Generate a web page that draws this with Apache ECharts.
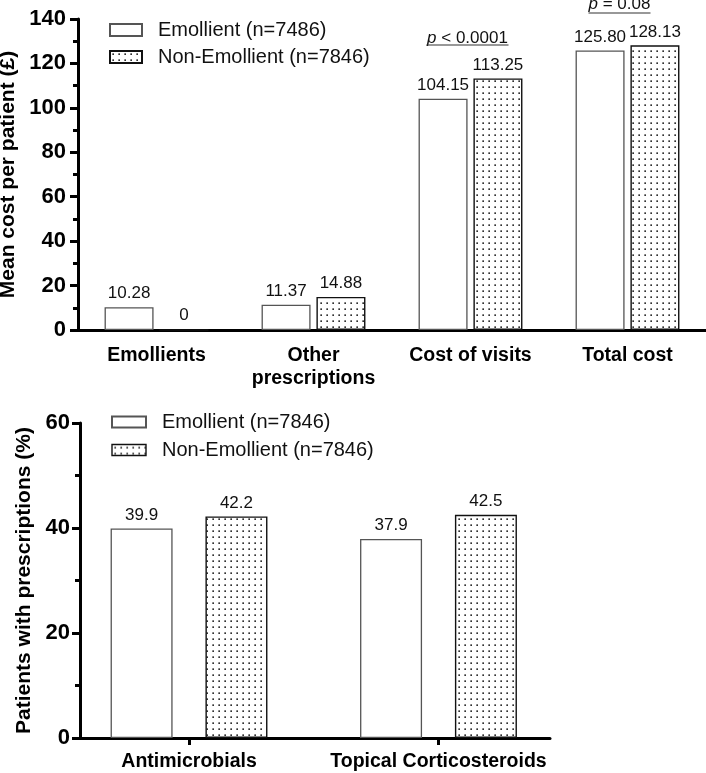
<!DOCTYPE html>
<html>
<head>
<meta charset="utf-8">
<script src="https://cdn.jsdelivr.net/npm/echarts@6/dist/echarts.min.js"></script>
<style>
html,body{margin:0;padding:0;background:#fff;}
#main{width:706px;height:773px;}
</style>
</head>
<body>
<div id="main"></div>
<script>
// ---- Data ----
const costCategories = ['Emollients', 'Other\nprescriptions', 'Cost of visits', 'Total cost'];
const costEmollient = [10.28, 11.37, 104.15, 125.80];
const costNonEmollient = [0, 14.88, 113.25, 128.13];
const costTicks = [0, 20, 40, 60, 80, 100, 120, 140];

const rxCategories = ['Antimicrobials', 'Topical Corticosteroids'];
const rxEmollient = [39.9, 37.9];
const rxNonEmollient = [42.2, 42.5];
const rxTicks = [0, 20, 40, 60];

const pValueCost = { category: 'Cost of visits', text: '< 0.0001' };
const pValueTotal = { category: 'Total cost', text: '= 0.08' };

const FONT = '"Liberation Sans", Arial, Helvetica, sans-serif';

function dotPattern() {
  const c = document.createElement('canvas');
  c.width = 6; c.height = 6;
  const ctx = c.getContext('2d');
  ctx.fillStyle = '#fff';
  ctx.fillRect(0, 0, 6, 6);
  ctx.fillStyle = '#000';
  ctx.fillRect(2.4, 2.4, 1.5, 1.5);
  return c;
}
const dots = { image: dotPattern(), repeat: 'repeat' };

const emolStyle = { color: '#fff', borderColor: '#555', borderWidth: 1.3 };
const nonStyle = { color: dots, borderColor: '#111', borderWidth: 1.4 };

const axisLineStyle = { show: true, lineStyle: { color: '#000', width: 3 } };
const tickStyle = { color: '#000', width: 3 };

const chart = echarts.init(document.getElementById('main'), null, { renderer: 'canvas' });

const labelCommon = { show: true, position: 'top', distance: 5, fontSize: 17, color: '#111', fontFamily: FONT };

const option = {
  animation: false,
  textStyle: { fontFamily: FONT },
  grid: [
    { left: 78, top: 19, width: 628, height: 311, containLabel: false, outerBoundsMode: 'none' },
    { left: 80, top: 423, width: 470, height: 315, containLabel: false, outerBoundsMode: 'none' }
  ],
  legend: [
    {
      orient: 'vertical', left: 104, top: 14, itemWidth: 32, itemHeight: 12, itemGap: 5,
      icon: 'rect', selectedMode: false,
      textStyle: { fontSize: 20, color: '#111', lineHeight: 22, padding: [0, 0, 0, 11] },
      data: ['Emollient (n=7486)', 'Non-Emollient (n=7846)']
    },
    {
      orient: 'vertical', left: 106, top: 406, itemWidth: 34, itemHeight: 11, itemGap: 6,
      icon: 'rect', selectedMode: false,
      textStyle: { fontSize: 20, color: '#111', lineHeight: 22, padding: [0, 0, 0, 11] },
      data: [
        { name: 'Emollient (n=7846)' },
        { name: 'Non-Emollient (n=7846) ', itemStyle: nonStyle }
      ]
    }
  ],
  xAxis: [
    {
      type: 'category', gridIndex: 0, data: costCategories,
      axisLine: axisLineStyle,
      axisTick: { alignWithLabel: true, interval: 0, length: 7, lineStyle: tickStyle },
      axisLabel: { interval: 0, fontSize: 19.5, fontWeight: 'bold', color: '#000', margin: 14, lineHeight: 23 }
    },
    {
      type: 'value', gridIndex: 1, min: -0.437, max: 1.447,
      splitLine: { show: false },
      axisLine: Object.assign({ onZero: false }, axisLineStyle),
      axisTick: { show: true, customValues: [0, 1], length: 7, lineStyle: tickStyle },
      axisLabel: {
        customValues: [0, 1], formatter: v => rxCategories[Math.round(v)],
        fontSize: 19.5, fontWeight: 'bold', color: '#000', margin: 14
      }
    }
  ],
  yAxis: [
    {
      type: 'value', gridIndex: 0, min: costTicks[0], max: costTicks[costTicks.length - 1], interval: 20,
      name: 'Mean cost per patient (£)', nameLocation: 'middle', nameGap: 57,
      nameTextStyle: { fontSize: 21, fontWeight: 'bold', color: '#000' },
      splitLine: { show: false },
      axisLine: Object.assign({ onZero: false }, axisLineStyle),
      axisTick: { show: true, length: 8, lineStyle: tickStyle },
      minorTick: { show: true, splitNumber: 2, length: 5, lineStyle: tickStyle },
      axisLabel: { fontSize: 22, fontWeight: 'bold', color: '#000', margin: 12 }
    },
    {
      type: 'value', gridIndex: 1, min: rxTicks[0], max: rxTicks[rxTicks.length - 1], interval: 20,
      name: 'Patients with prescriptions (%)', nameLocation: 'middle', nameGap: 44,
      nameTextStyle: { fontSize: 21, fontWeight: 'bold', color: '#000' },
      splitLine: { show: false },
      axisLine: Object.assign({ onZero: false }, axisLineStyle),
      axisTick: { show: true, length: 8, lineStyle: tickStyle },
      minorTick: { show: true, splitNumber: 2, length: 5, lineStyle: tickStyle },
      axisLabel: { fontSize: 22, fontWeight: 'bold', color: '#000', margin: 10 }
    }
  ],
  series: [
    {
      name: 'Emollient (n=7486)', type: 'bar', xAxisIndex: 0, yAxisIndex: 0,
      data: costEmollient, barWidth: 49, barGap: '12%', itemStyle: emolStyle,
      label: Object.assign({ formatter: p => p.value === 0 ? '0' : p.value.toFixed(2) }, labelCommon)
    },
    {
      name: 'Non-Emollient (n=7846)', type: 'bar', xAxisIndex: 0, yAxisIndex: 0,
      data: costNonEmollient, barWidth: 49, barGap: '12%', itemStyle: nonStyle,
      label: Object.assign({ formatter: p => p.value === 0 ? '0' : p.value.toFixed(2) }, labelCommon)
    },
    {
      name: 'Emollient (n=7846)', type: 'bar', xAxisIndex: 1, yAxisIndex: 1,
      data: rxEmollient.map((v, i) => [i, v]), barWidth: 62, barGap: '53%', itemStyle: emolStyle,
      label: Object.assign({ formatter: p => p.value[1].toFixed(1) }, labelCommon)
    },
    {
      name: 'Non-Emollient (n=7846) ', type: 'bar', xAxisIndex: 1, yAxisIndex: 1,
      data: rxNonEmollient.map((v, i) => [i, v]), barWidth: 62, barGap: '53%', itemStyle: nonStyle,
      label: Object.assign({ formatter: p => p.value[1].toFixed(1) }, labelCommon)
    }
  ]
};
chart.setOption(option);

// p-value annotations
function pAnnot(pv, yText, yLine, halfW, dx) {
  const x = chart.convertToPixel({ xAxisIndex: 0 }, pv.category) + dx;
  return [
    {
      type: 'text', x: x, y: yText,
      style: {
        text: '{i|p} ' + pv.text,
        rich: { i: { fontStyle: 'italic', fontSize: 17, fontFamily: FONT, fill: '#111' } },
        fontSize: 17, fontFamily: FONT, fill: '#111', align: 'center', verticalAlign: 'middle'
      }
    },
    {
      type: 'line', shape: { x1: x - halfW, y1: yLine, x2: x + halfW, y2: yLine },
      style: { stroke: '#333', lineWidth: 1.2 }
    }
  ];
}
chart.setOption({
  graphic: [].concat(pAnnot(pValueCost, 38, 45, 41, -3), pAnnot(pValueTotal, 4, 13, 31, -8))
});
</script>
</body>
</html>
